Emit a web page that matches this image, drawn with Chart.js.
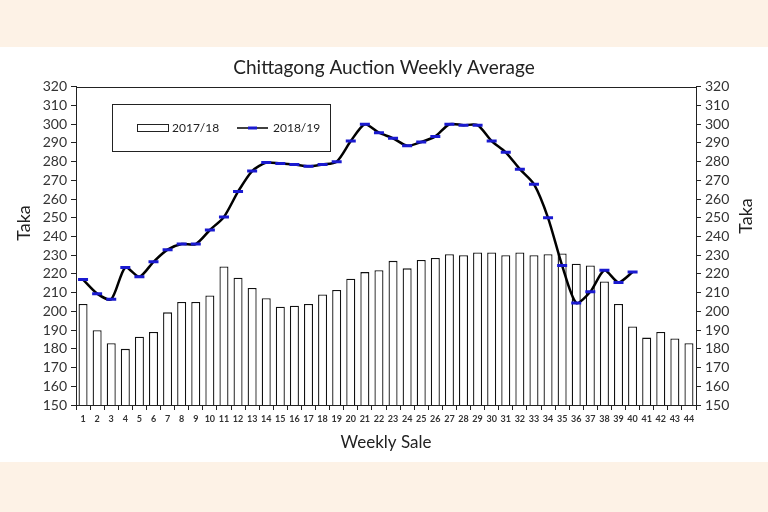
<!DOCTYPE html>
<html>
<head>
<meta charset="utf-8">
<script src="https://cdn.jsdelivr.net/npm/chart.js@4"></script>
<style>
  html,body{margin:0;padding:0;background:#fdf2e6;}
  #wrap{position:relative;width:768px;height:512px;}
  #band{position:absolute;left:0;top:47px;width:768px;height:415px;background:#fff;}
  #c{position:absolute;left:0;top:0;}
</style>
</head>
<body>
<div id="wrap">
  <div id="band"></div>
  <canvas id="c" width="768" height="512"></canvas>
</div>
<script>
// weeks 1..44
const weeks = Array.from({length:44},(_,i)=>String(i+1));
// 2017/18 weekly average (bars)
const sales1718 = [204,190,183,180,186.5,189,199.5,205,205,208.5,224,218,212.5,207,202.5,203,204,209,211.5,217.5,221,222,227,223,227.5,228.5,230.5,230,231.5,231.5,230,231.5,230,230.5,231,225.5,224.5,216,204,192,186,189,185.5,183];
// 2018/19 weekly average (line), 40 sales so far
const sales1819 = [217,209.5,206.5,223.5,218.5,226.5,233,236,236,243.5,250.5,264,275,279.5,279,278.5,277.5,278.5,280,291,300,295.5,292.5,288.5,290.5,293.5,300,299.5,299.5,291,285,276,268,250,224.5,204.5,210.5,222,215.5,221];
const yTicks = {min:150, max:320, step:10};

const FONT = 'Lato, "Open Sans", sans-serif';

function vText(ctx, txt, x, y){
  ctx.save();
  ctx.translate(x,y);
  ctx.rotate(-Math.PI/2);
  ctx.font='18px '+FONT;
  ctx.textAlign='center';
  ctx.textBaseline='middle';
  ctx.fillStyle='#222';
  ctx.fillText(txt,0,0);
  ctx.restore();
}

const extras = {
  id:'extras',
  afterDraw(chart){
    const {ctx, chartArea:a} = chart;
    ctx.save();
    // plot frame
    ctx.strokeStyle = '#222'; ctx.lineWidth = 1;
    ctx.strokeRect(Math.round(a.left)+0.5, Math.round(a.top)+0.5, Math.round(a.right-a.left), Math.round(a.bottom-a.top));
    // legend box
    ctx.strokeRect(112.5,104.5,218,47);
    ctx.fillStyle='#fff';
    ctx.fillRect(137,124,31,7);
    ctx.strokeStyle='#222';
    ctx.strokeRect(137.5,124.5,31,7);
    ctx.fillStyle='#222';
    ctx.font = '12px '+FONT;
    ctx.textBaseline='middle';
    ctx.fillText('2017/18',172,128);
    ctx.beginPath(); ctx.moveTo(237,128); ctx.lineTo(268,128);
    ctx.lineWidth=1.5; ctx.strokeStyle='#000'; ctx.stroke();
    ctx.beginPath(); ctx.moveTo(248,128); ctx.lineTo(257,128);
    ctx.lineWidth=3; ctx.strokeStyle='#1a1ad0'; ctx.stroke();
    ctx.fillStyle='#222';
    ctx.fillText('2018/19',273,128);
    ctx.restore();
    // axis titles, both reading bottom to top
    vText(ctx,'Taka',24,223);
    vText(ctx,'Taka',746,216);
  }
};

new Chart(document.getElementById('c'),{
  type:'bar',
  data:{
    labels:weeks,
    datasets:[
      {type:'line',label:'2018/19',data:sales1819,borderColor:'#000',borderWidth:2.5,tension:0.25,
       pointStyle:'line',pointRadius:5,pointBorderColor:'#1a1ad0',pointBackgroundColor:'#1a1ad0',pointBorderWidth:3,
       yAxisID:'y',order:0},
      {label:'2017/18',data:sales1718,backgroundColor:'#fff',borderColor:'#111',borderWidth:1.3,
       barPercentage:0.64,categoryPercentage:1,yAxisID:'y',order:1}
    ]
  },
  options:{
    responsive:false,
    animation:false,
    layout:{padding:{left:0,right:0,top:0,bottom:57}},
    plugins:{
      legend:{display:false},
      tooltip:{enabled:false},
      title:{display:true,text:'Chittagong Auction Weekly Average',color:'#222',
        font:{family:FONT,size:19,weight:'normal'},padding:{top:56,bottom:8}}
    },
    scales:{
      x:{
        grid:{drawOnChartArea:false,tickLength:5,color:'#222',offset:true},
        border:{color:'#222'},
        ticks:{font:{family:FONT,size:9,weight:'bold'},color:'#333',padding:4,maxRotation:0,autoSkip:false},
        title:{display:true,text:'Weekly Sale',font:{family:FONT,size:17},color:'#222',padding:{top:2,bottom:2}},
        afterFit(s){s.height=50;}
      },
      y:{
        position:'left',min:yTicks.min,max:yTicks.max,
        grid:{drawOnChartArea:false,tickLength:5,color:'#222'},
        border:{color:'#222'},
        ticks:{stepSize:yTicks.step,autoSkip:false,font:{family:FONT,size:14},color:'#333',padding:4},
        afterFit(s){s.width=76;}
      },
      y2:{
        position:'right',min:yTicks.min,max:yTicks.max,
        grid:{drawOnChartArea:false,tickLength:5,color:'#222'},
        border:{color:'#222'},
        ticks:{stepSize:yTicks.step,autoSkip:false,font:{family:FONT,size:14},color:'#333',padding:4},
        afterFit(s){s.width=72;}
      }
    }
  },
  plugins:[extras]
});
</script>
</body>
</html>
